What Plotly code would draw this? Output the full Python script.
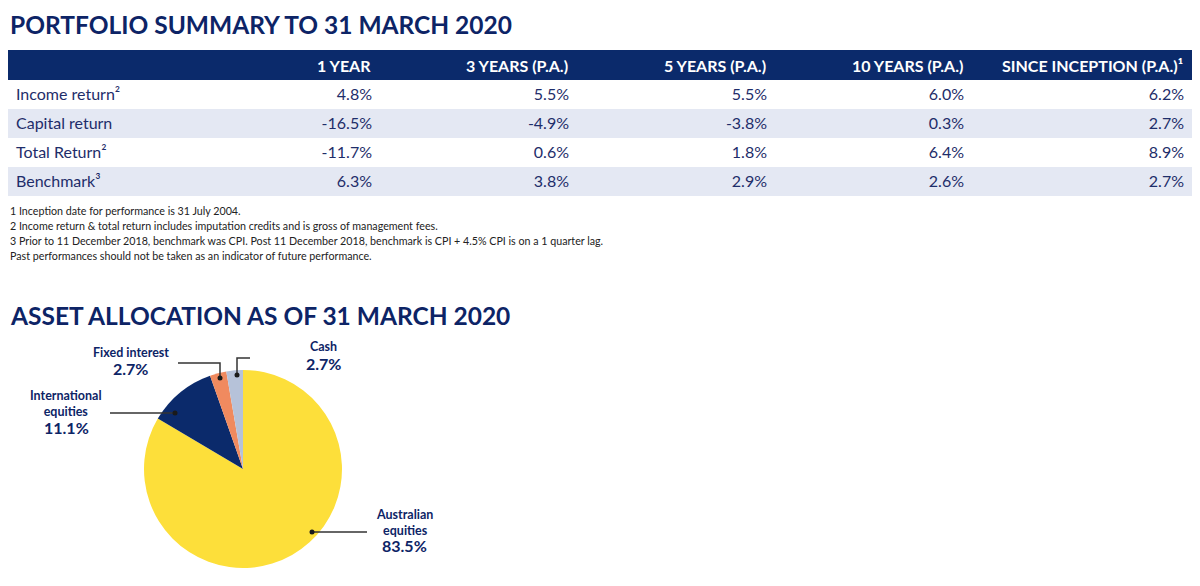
import plotly.graph_objects as go

W, H = 1200, 586
OFF = 8  # page body margin of the html page

# ---------------- data ----------------
col_headers = ["1 YEAR", "3 YEARS (P.A.)", "5 YEARS (P.A.)", "10 YEARS (P.A.)",
               "SINCE INCEPTION (P.A.)¹"]
row_labels = ["Income return²", "Capital return", "Total Return²", "Benchmark³"]
one_year = [4.8, -16.5, -11.7, 6.3]
three_year = [5.5, -4.9, 0.6, 3.8]
five_year = [5.5, -3.8, 1.8, 2.9]
ten_year = [6.0, 0.3, 6.4, 2.6]
since_inception = [6.2, 2.7, 8.9, 2.7]

footnotes = [
    "1 Inception date for performance is 31 July 2004.",
    "2 Income return & total return includes imputation credits and is gross of management fees.",
    "3 Prior to 11 December 2018, benchmark was CPI. Post 11 December 2018, benchmark is CPI + 4.5% CPI is on a 1 quarter lag.",
    "Past performances should not be taken as an indicator of future performance.",
]

asset_labels = ["Australian equities", "International equities", "Fixed interest", "Cash"]
asset_values = [83.5, 11.1, 2.7, 2.7]
asset_colors = ["#fddf3a", "#0b2a6b", "#f08a5f", "#b6c2d9"]

# ---------------- style ----------------
NAVY = "#0b2a6b"
TITLE_NAVY = "#0d2466"
LIGHT = "#e4e8f3"
TEXT = "#1e2d6a"
FONT = "Lato"

col_px = [192, 180, 197, 198, 197, 220]  # column widths in px
TABLE_LEFT, TABLE_RIGHT = 8, 1192


def fx(x):
    return (x - OFF) / W


def fy(y):
    return 1 - (y - OFF) / H


fmt = lambda vals: [f"{v:.1f}%" for v in vals]

row_fill = ["white", LIGHT, "white", LIGHT]

fig = go.Figure()

fig.add_trace(go.Table(
    domain=dict(x=[fx(TABLE_LEFT), fx(TABLE_RIGHT)], y=[fy(215), fy(64)]),
    columnwidth=col_px,
    header=dict(values=[], height=0, fill_color=NAVY, line=dict(color=NAVY, width=0)),
    cells=dict(
        values=[row_labels, fmt(one_year), fmt(three_year), fmt(five_year),
                fmt(ten_year), fmt(since_inception)],
        fill_color=[row_fill] * 6,
        line=dict(color=[row_fill] * 6, width=0),
        align=["left"] + ["right"] * 5,
        font=dict(family=FONT, size=16, color=TEXT),
        height=29,
    ),
))

fig.add_trace(go.Pie(
    labels=asset_labels,
    values=asset_values,
    marker=dict(colors=asset_colors, line=dict(width=0)),
    sort=False,
    direction="clockwise",
    rotation=0,
    textinfo="none",
    hoverinfo="label+percent",
    showlegend=False,
    domain=dict(x=[fx(144), fx(342)], y=[fy(568), fy(370)]),
))

annotations = []
shapes = []

# table header band + column titles (right-aligned, cell padding)
shapes.append(dict(type="rect", xref="paper", yref="paper",
                   x0=fx(TABLE_LEFT), x1=fx(TABLE_RIGHT), y0=fy(80), y1=fy(50),
                   fillcolor=NAVY, line=dict(width=0), layer="above"))
edge = TABLE_LEFT + col_px[0]
for name, w in zip(col_headers, col_px[1:]):
    edge += w
    annotations.append(dict(text=f"<b>{name}</b>", x=fx(edge - 7), y=fy(65.5),
                            xref="paper", yref="paper", xanchor="right", yanchor="middle",
                            showarrow=False, font=dict(family=FONT, size=16, color="white", weight=900)))

# titles
for t, yy in [("PORTFOLIO SUMMARY TO 31 MARCH 2020", 25), ("ASSET ALLOCATION AS OF 31 MARCH 2020", 315)]:
    annotations.append(dict(text=f"<b>{t}</b>", x=fx(8), y=fy(yy),
                            xref="paper", yref="paper", xanchor="left", yanchor="middle",
                            showarrow=False, font=dict(family=FONT, size=24.5, color=TITLE_NAVY, weight=900)))
# footnotes
for i, t in enumerate(footnotes):
    annotations.append(dict(text=t, x=fx(8), y=fy(211 + i * 14.7), xref="paper", yref="paper",
                            xanchor="left", yanchor="middle", showarrow=False,
                            font=dict(family=FONT, size=10.7, color="#222222")))

# pie labels: (name text, center x, name-block center y, pct y)
label_pos = [
    ("Australian<br>equities", 404, 522.5, 545),
    ("International<br>equities", 66, 403.5, 427),
    ("Fixed interest", 131, 352, 368),
    ("Cash", 324, 347, 363),
]
for (name, cx, yc, yp), v in zip(label_pos, asset_values):
    annotations.append(dict(text=f"<b>{name}</b>", x=fx(cx), y=fy(yc), xref="paper",
                            yref="paper", xanchor="center", yanchor="middle", showarrow=False,
                            align="center",
                            font=dict(family=FONT, size=12.5, color=TITLE_NAVY, weight=800)))
    annotations.append(dict(text=f"<b>{v:.1f}%</b>", x=fx(cx), y=fy(yp),
                            xref="paper", yref="paper", xanchor="center", yanchor="middle",
                            showarrow=False,
                            font=dict(family=FONT, size=16, color=TITLE_NAVY, weight=900)))

# leader lines (pixel paths)
leaders = [
    [(312, 532), (367, 532)],
    [(110, 413), (175, 413)],
    [(178, 363), (220, 363), (220, 378)],
    [(237, 375), (237, 358), (250, 358)],
]
dots = [(312, 532), (175, 413), (220, 378), (237, 375)]
for pts in leaders:
    path = "M " + " L ".join(f"{fx(x)},{fy(y)}" for x, y in pts)
    shapes.append(dict(type="path", path=path, xref="paper", yref="paper",
                       line=dict(color="#333333", width=1.5)))
for x, y in dots:
    r = 2.5
    shapes.append(dict(type="circle", xref="paper", yref="paper",
                       x0=fx(x - r), x1=fx(x + r), y0=fy(y + r), y1=fy(y - r),
                       fillcolor="#1a1a1a", line=dict(width=0)))

fig.update_layout(
    width=W, height=H,
    margin=dict(l=0, r=0, t=0, b=0),
    paper_bgcolor="white",
    plot_bgcolor="white",
    annotations=annotations,
    shapes=shapes,
)

fig.write_html("out.html")
